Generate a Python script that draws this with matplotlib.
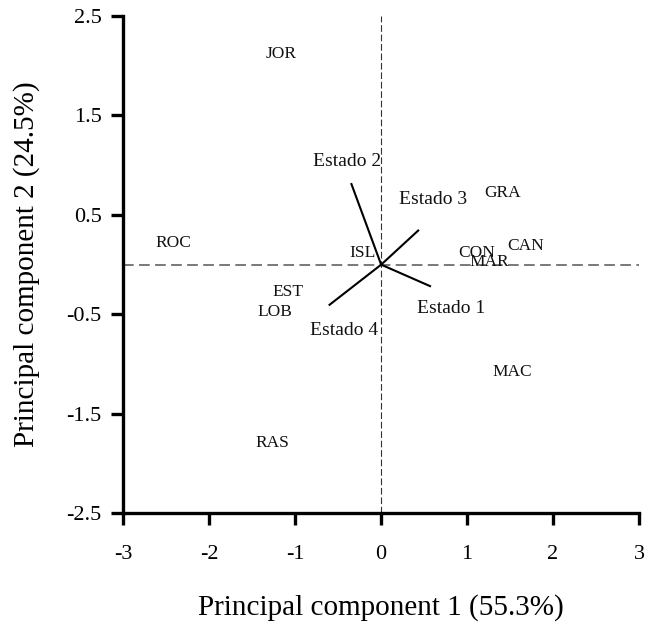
import matplotlib
matplotlib.use("Agg")
import matplotlib.pyplot as plt

plt.rcParams["font.family"] = ["Liberation Serif", "DejaVu Serif"]

# Site scores on the first two principal components
sites = ["JOR", "ROC", "GRA", "CAN", "CON", "MAR", "ISL", "EST", "LOB", "MAC", "RAS"]
pc1 = [-1.16, -2.42, 1.41, 1.68, 1.11, 1.26, -0.22, -1.09, -1.24, 1.53, -1.26]
pc2 = [2.12, 0.22, 0.72, 0.19, 0.12, 0.03, 0.12, -0.28, -0.48, -1.08, -1.79]

# Variable loadings (biplot arrows) and where their names sit
variables = ["Estado 1", "Estado 2", "Estado 3", "Estado 4"]
load1 = [0.58, -0.35, 0.44, -0.61]
load2 = [-0.22, 0.82, 0.35, -0.41]
var_label_x = [0.81, -0.40, 0.60, -0.43]
var_label_y = [-0.44, 1.04, 0.66, -0.66]

xticks = [-3, -2, -1, 0, 1, 2, 3]
yticks = [-2.5, -1.5, -0.5, 0.5, 1.5, 2.5]

fig = plt.figure(figsize=(6.48, 6.32), dpi=100)
ax = fig.add_axes([0.1903, 0.1878, 0.7958, 0.7869])
ax.set_xlim(-3, 3)
ax.set_ylim(-2.5, 2.5)

for side in ("top", "right"):
    ax.spines[side].set_visible(False)
for side in ("left", "bottom"):
    ax.spines[side].set_linewidth(2.4)
    ax.spines[side].set_color("black")

ax.set_xticks(xticks)
ax.set_xticklabels([str(t) for t in xticks])
ax.set_yticks(yticks)
ax.set_yticklabels([f"{t:g}" for t in yticks])
ax.tick_params(direction="out", length=8.6, width=2.4, labelsize=16, color="black")
ax.tick_params(axis="x", pad=14)
ax.tick_params(axis="y", pad=7)

# Reference axes through the origin
h = ax.axhline(0, color="#555555", lw=1.1, zorder=1)
h.set_dashes((7, 3.5))
v = ax.axvline(0, color="#333333", lw=0.8, zorder=1)
v.set_dashes((6, 2.5))

# Loading vectors
for x, y in zip(load1, load2):
    ax.plot([0, x], [0, y], color="black", lw=1.5, solid_capstyle="butt", zorder=2)

for name, x, y in zip(variables, var_label_x, var_label_y):
    ax.text(x, y, name, fontsize=14, ha="center", va="center", color="#111111")

# Site labels
for name, x, y in zip(sites, pc1, pc2):
    ax.text(x, y, name, fontsize=12.5, ha="center", va="center", color="#111111")

ax.set_xlabel("Principal component 1 (55.3%)", fontsize=21)
ax.set_ylabel("Principal component 2 (24.5%)", fontsize=21)
ax.xaxis.label.set_va("center")
ax.yaxis.label.set_va("center")
ax.xaxis.set_label_coords(0.5, -0.19)
ax.yaxis.set_label_coords(-0.187, 0.5)

fig.savefig("out.png", dpi=100)
